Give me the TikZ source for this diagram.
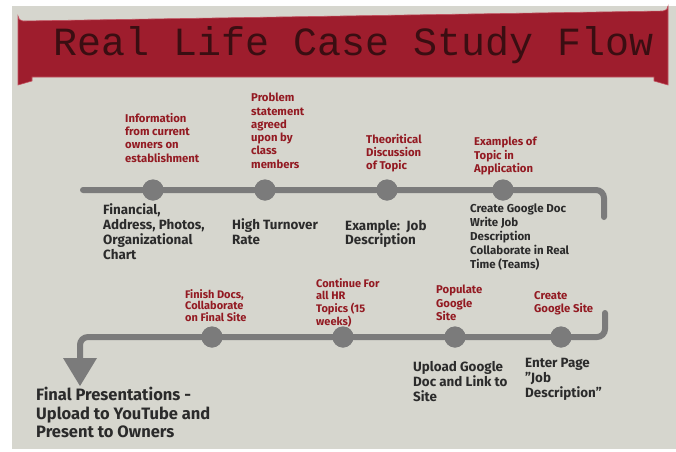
\documentclass[tikz,border=0pt]{standalone}
\usepackage{fontspec}
\setmainfont{Fira Sans}
\newfontfamily\titlefont{Liberation Mono}
\usetikzlibrary{arrows.meta}
\definecolor{bggrey}{HTML}{D6D6CE}
\definecolor{bannerred}{HTML}{9E1D2D}
\definecolor{bannerline}{HTML}{C2505E}
\definecolor{titleink}{HTML}{3A0E12}
\definecolor{lblred}{HTML}{931A22}
\definecolor{lblblack}{HTML}{2B2B2B}
\definecolor{linegrey}{HTML}{7B7B7B}
\tikzset{
  redlbl/.style={anchor=north west, inner sep=0pt, align=left, text=lblred, font=\fontsize{11.3}{13.3}\selectfont\bfseries},
  blacklbl/.style={anchor=north west, inner sep=0pt, align=left, text=lblblack, font=\fontsize{13.4}{15.3}\selectfont\bfseries},
  dot/.style={circle, fill=linegrey, minimum size=21pt, inner sep=0pt},
  flow/.style={draw=linegrey, line width=6pt, rounded corners=8pt},
}
\begin{document}
\begin{tikzpicture}[x=1pt,y=-1pt]
\useasboundingbox (0,0) rectangle (676,451);
\fill[white] (0,0) rectangle (676,451);
\fill[bggrey] (12,6) rectangle (676,449);
% banner
\filldraw[fill=bannerred, draw=bannerline, line width=0.6pt]
  (18,85) -- (18,16) arc[start angle=180,end angle=90,radius=5] -- (663,11)
  arc[start angle=90,end angle=0,radius=5] -- (668,85) -- (654,81) -- (654,77)
  -- (32,77) -- (32,81) -- cycle;
\node[titleink, font=\titlefont\fontsize{40}{40}\selectfont] (title) at (354,45) {Real Life Case Study Flow};
% row 1
\coordinate (s1) at (83,190);
\coordinate (e1) at (604,217);
\node[dot] (c1) at (153,190) {};
\node[dot] (c2) at (265,190) {};
\node[dot] (c3) at (387,190) {};
\node[dot] (c4) at (503,190) {};
\draw[flow, line cap=round] (s1) -- (c1.center) -- (c2.center) -- (c3.center) -- (c4.center) -- (604,190) -- (e1);
\foreach \n in {c1,c2,c3,c4} \fill[linegrey] (\n) circle[radius=10.5pt];
% row 2
\coordinate (s2) at (605,313);
\node[dot] (d1) at (561,337) {};
\node[dot] (d2) at (455,337) {};
\node[dot] (d3) at (343,337) {};
\node[dot] (d4) at (212,337) {};
\coordinate (tip) at (80,386);
\draw[flow, line cap=round] (s2) -- (605,337) -- (d1.center) -- (d2.center) -- (d3.center) -- (d4.center) -- (80,337) -- (80,362);
\fill[linegrey] (63,358) -- (97,358) -- (tip) -- cycle;
\foreach \n in {d1,d2,d3,d4} \fill[linegrey] (\n) circle[radius=10.5pt];
% labels row 1
\node[redlbl] (r1) at (125,113) {Information\\from current\\owners on\\establishment};
\node[redlbl] (r2) at (251,93) {Problem\\statement\\agreed\\upon by\\class\\members};
\node[redlbl] (r3) at (366,134) {Theoritical\\Discussion\\of Topic};
\node[redlbl] (r4) at (474,137) {Examples of\\Topic in\\Application};
\node[blacklbl] (b1) at (103,203) {Financial,\\Address, Photos,\\Organizational\\Chart};
\node[blacklbl] (b2) at (232,218) {High Turnover\\Rate};
\node[blacklbl, font=\fontsize{13.4}{14}\selectfont\bfseries] (b3) at (345,220) {Example:\ \ Job\\Description};
\node[blacklbl, font=\fontsize{11.5}{13.8}\selectfont\bfseries] (b4) at (470,204) {Create Google Doc\\Write Job\\Description\\Collaborate in Real\\Time (Teams)};
% labels row 2
\node[redlbl, font=\fontsize{11}{11.8}\selectfont\bfseries] (r5) at (185,289) {Finish Docs,\\Collaborate\\on Final Site};
\node[redlbl, font=\fontsize{11}{12.7}\selectfont\bfseries] (r6) at (316,278) {Continue For\\all HR\\Topics (15\\weeks)};
\node[redlbl] (r7) at (436,285) {Populate\\Google\\Site};
\node[redlbl] (r8) at (534,291) {Create\\Google Site};
\node[blacklbl, font=\fontsize{13.4}{15}\selectfont\bfseries] (b5) at (413,361) {Upload Google\\Doc and Link to\\Site};
\node[blacklbl, font=\fontsize{13.4}{15}\selectfont\bfseries] (b6) at (525,358) {Enter Page\\\symbol{34}Job\\Description\symbol{34}};
\node[blacklbl, font=\fontsize{16.5}{18.5}\selectfont\bfseries] (b7) at (36,387) {Final Presentations -\\Upload to YouTube and\\Present to Owners};
\end{tikzpicture}
\end{document}
